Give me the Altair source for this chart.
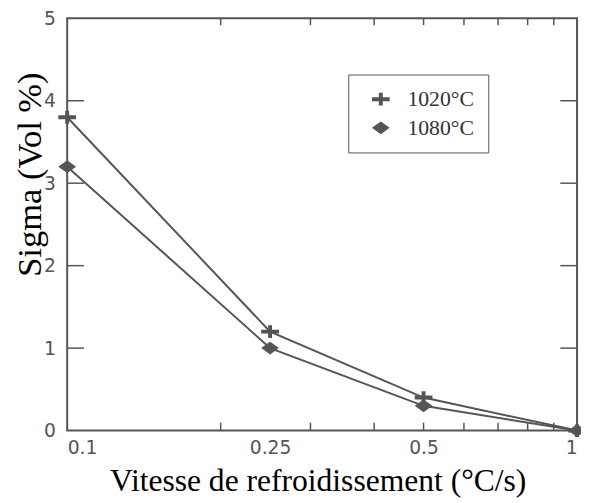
import altair as alt
import pandas as pd

# ---- data ----
rates = [0.1, 0.25, 0.5, 1.0]
sigma_1020 = [3.8, 1.2, 0.4, 0.0]
sigma_1080 = [3.2, 1.0, 0.3, 0.0]
series = ["1020°C", "1080°C"]

x_label_values = [0.1, 0.25, 0.5, 1.0]
x_minor_ticks = [0.2, 0.3, 0.4, 0.5, 0.6, 0.7, 0.8, 0.9]
y_label_values = [0, 1, 2, 3, 4, 5]
y_ticks = [1, 2, 3, 4]

rows = []
for r, a, b in zip(rates, sigma_1020, sigma_1080):
    rows.append({"rate": r, "sigma": a, "series": series[0]})
    rows.append({"rate": r, "sigma": b, "series": series[1]})
df = pd.DataFrame(rows)
xt = pd.DataFrame({"v": x_minor_ticks})
yt = pd.DataFrame({"v": y_ticks})

W, H = 517, 418
INK = "#555555"

plus_path = "M-1,-0.22H1V0.22H-1Z M-0.22,-0.72H0.22V0.72H-0.22Z"
diamond_path = "M-1,0L0,-0.72L1,0L0,0.72Z"

xscale = alt.Scale(type="log", domain=[0.1, 1], nice=False)
yscale = alt.Scale(domain=[0, 5], nice=False)

x_axis = alt.Axis(
    values=x_label_values, format="~g", ticks=False, domain=False, grid=False,
    labelFlush=False, labelOverlap=False,
    labelAlign={"expr": "datum.value == 0.1 ? 'left' : (datum.value == 1 ? 'right' : 'center')"},
    labelFont="DejaVu Sans", labelFontSize=19, labelColor=INK, labelPadding=8,
    title="Vitesse de refroidissement (°C/s)", titleFont="Liberation Serif",
    titleFontSize=32, titleFontWeight="normal", titleColor="black",
    titleX=254, titleY=61, titleBaseline="alphabetic", titleAlign="center",
)
y_axis = alt.Axis(
    values=y_label_values, format="d", ticks=False, domain=False, grid=False,
    labelFlush=False, labelOverlap=False,
    labelFont="DejaVu Sans", labelFontSize=19, labelColor=INK, labelPadding=12,
    title="Sigma (Vol %)", titleFont="Liberation Serif", titleFontSize=35,
    titleFontWeight="normal", titleColor="black", titleAngle=270,
    titleX=-27, titleY=158, titleBaseline="alphabetic", titleAlign="center",
)

lines = alt.Chart(df).mark_line(color=INK, strokeWidth=2).encode(
    x=alt.X("rate:Q", scale=xscale, axis=x_axis),
    y=alt.Y("sigma:Q", scale=yscale, axis=y_axis),
    detail="series:N",
)

points = alt.Chart(df).mark_point(filled=True, opacity=1, color=INK, strokeWidth=0).encode(
    x=alt.X("rate:Q", scale=xscale),
    y=alt.Y("sigma:Q", scale=yscale),
    shape=alt.Shape(
        "series:N",
        scale=alt.Scale(domain=series, range=[plus_path, diamond_path]),
        legend=alt.Legend(
            orient="none", legendX=285, legendY=57, title=None,
            strokeColor=INK, fillColor="white", padding=14, symbolOffset=8,
            labelFont="Liberation Serif", labelFontSize=22, labelColor="#333333",
            labelOffset=16, rowPadding=7, symbolSize=324,
            symbolFillColor=INK, symbolStrokeColor=INK, symbolStrokeWidth=0,
        ),
    ),
    size=alt.value(324),
)

tick_style = dict(color=INK, strokeWidth=1.5)
top_ticks = alt.Chart(xt).mark_rule(**tick_style).encode(
    x=alt.X("v:Q", scale=xscale), y=alt.value(0), y2=alt.value(7))
bottom_ticks = alt.Chart(xt).mark_rule(**tick_style).encode(
    x=alt.X("v:Q", scale=xscale), y=alt.value(H), y2=alt.value(H - 8))
left_ticks = alt.Chart(yt).mark_rule(**tick_style).encode(
    y=alt.Y("v:Q", scale=yscale), x=alt.value(0), x2=alt.value(17))
right_ticks = alt.Chart(yt).mark_rule(**tick_style).encode(
    y=alt.Y("v:Q", scale=yscale), x=alt.value(W), x2=alt.value(W - 17))

chart = alt.layer(
    top_ticks, bottom_ticks, left_ticks, right_ticks, lines, points
).properties(
    width=W, height=H,
    autosize=alt.AutoSizeParams(type="none"),
    padding={"left": 60, "top": 7, "right": 4, "bottom": 70},
    background="white",
).configure_view(
    stroke=INK, strokeWidth=2
)

chart.save("out.html", embed_options={"renderer": "svg", "actions": False})
